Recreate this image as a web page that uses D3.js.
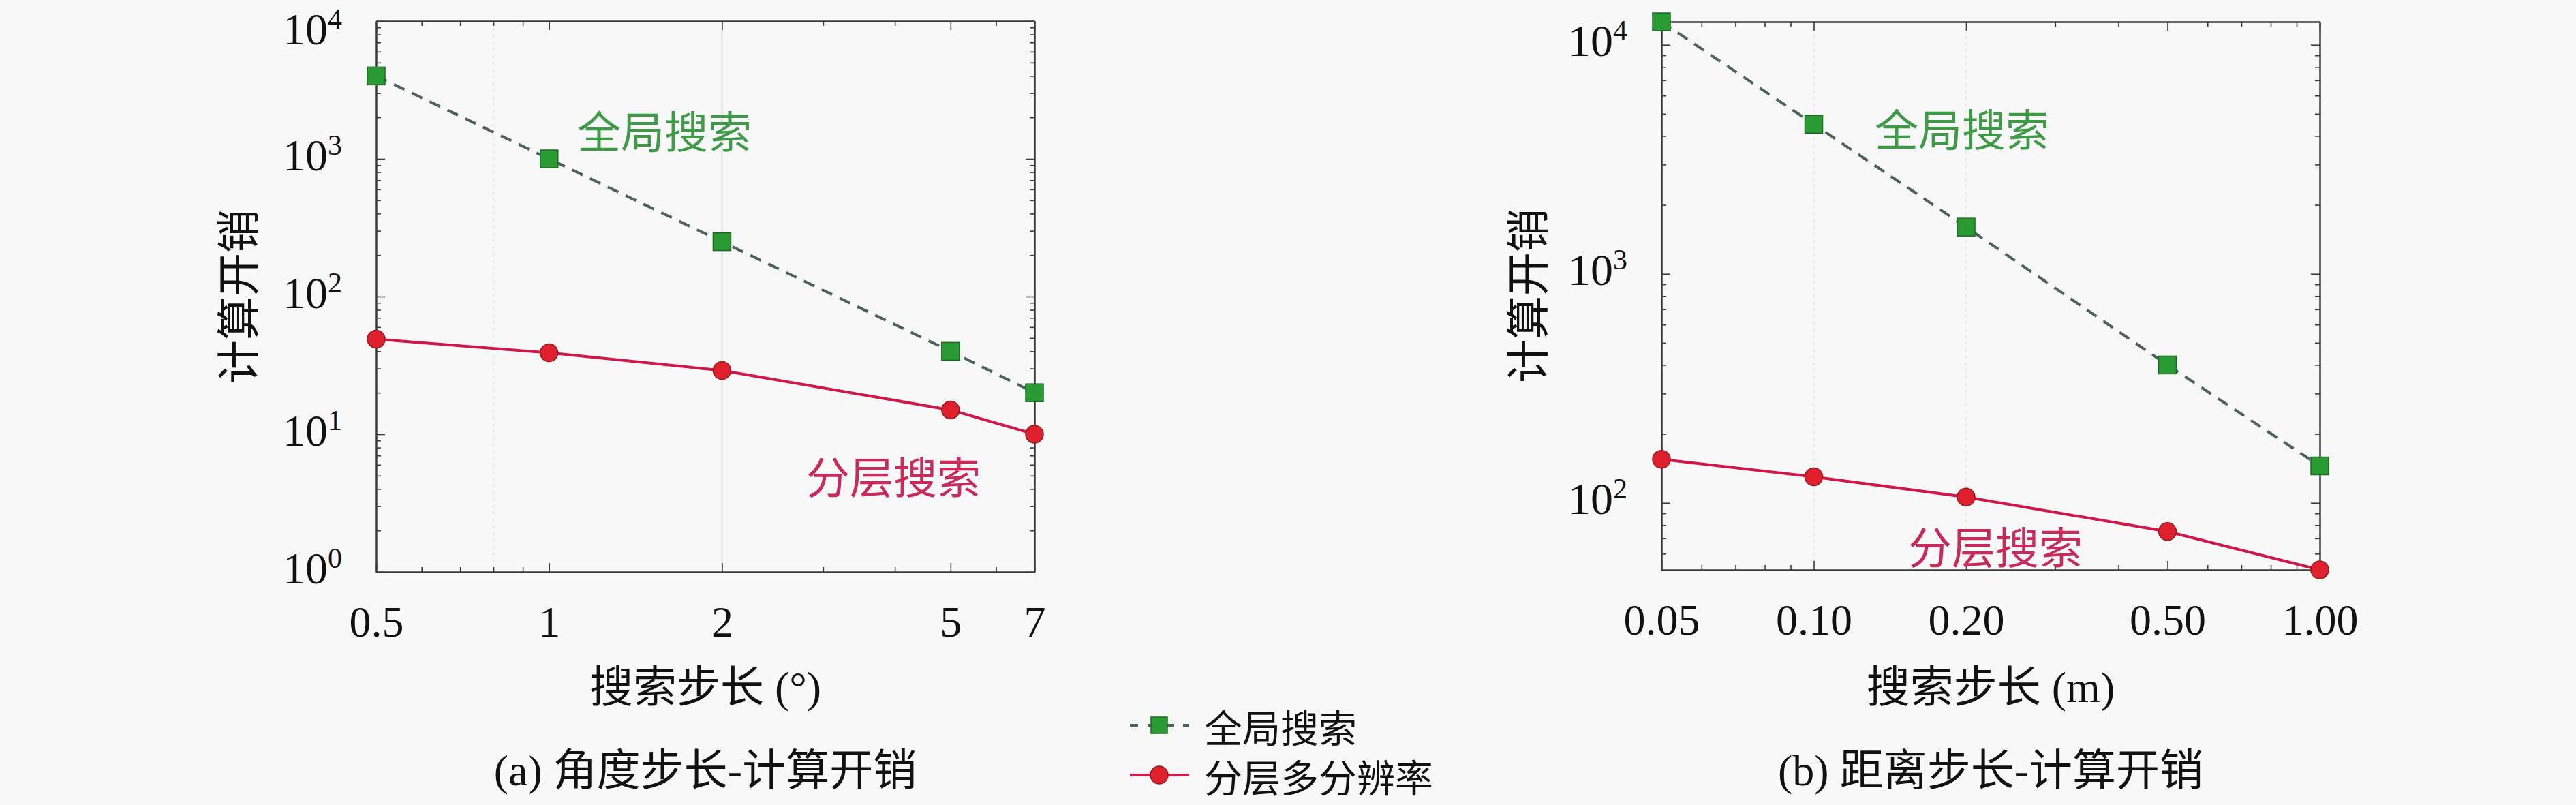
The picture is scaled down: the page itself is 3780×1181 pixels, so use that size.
<!DOCTYPE html>
<html>
<head>
<meta charset="utf-8">
<script src="https://cdn.jsdelivr.net/npm/d3@7"></script>
<style>
  html, body { margin: 0; padding: 0; background: #f8f8f8; }
  svg { display: block; }
</style>
</head>
<body>
<div id="chart"></div>
<script>
// panel (a): angle step vs cost
const angleSteps = [0.5, 1, 2, 5, 7];
const angleGlobal = [4000, 1000, 250, 40, 20];
const angleLayered = [49, 39, 29, 15, 10];
const angleTickLabels = ['0.5', '1', '2', '5', '7'];

// panel (b): distance step vs cost
const distSteps = [0.05, 0.1, 0.2, 0.5, 1.0];
const distGlobal = [12600, 4500, 1600, 400, 145];
const distLayered = [155, 130, 106, 75, 51];
const distTickLabels = ['0.05', '0.10', '0.20', '0.50', '1.00'];

const seriesNames = ['全局搜索', '分层多分辨率'];
const inlineNames = ['全局搜索', '分层搜索'];

const W = 3780, H = 1181;
const serif = '"Liberation Serif", "DejaVu Serif", serif';
const mixed = '"Liberation Serif", "Noto Sans CJK SC", serif';
const cjk = '"Noto Sans CJK SC", sans-serif';

const greenLine = '#4c625c', greenFill = '#2a9b32', greenEdge = '#1c6a22', greenText = '#3f9a48';
const redLine = '#d0174a', redFill = '#e1202e', redEdge = '#951a1e', redText = '#c92a5a';

const svg = d3.select('#chart').append('svg')
  .attr('width', W).attr('height', H)
  .style('background', '#f8f8f8');

function minorTicks(domain) {
  const out = [];
  const lo = Math.floor(Math.log10(domain[0])), hi = Math.ceil(Math.log10(domain[1]));
  for (let e = lo; e <= hi; e++) {
    for (let m = 1; m < 10; m++) {
      const v = +(m * Math.pow(10, e)).toPrecision(6);
      if (v >= domain[0] * 0.9999 && v <= domain[1] * 1.0001) out.push(v);
    }
  }
  return out;
}

function drawPanel(p) {
  const x = d3.scaleLog().domain(p.xDomain).range([p.left, p.right]);
  const y = d3.scaleLog().domain(p.yDomain).range([p.bottom, p.top]);
  const g = svg.append('g');

  // faint vertical guides
  g.selectAll('.grid').data(p.grid).enter().append('line')
    .attr('x1', d => x(d.v)).attr('x2', d => x(d.v))
    .attr('y1', p.top).attr('y2', p.bottom)
    .attr('stroke', d => d.c).attr('stroke-width', 2)
    .attr('stroke-dasharray', d => d.dash);

  const yMajor = minorTicks(p.yDomain).filter(v => Math.abs(Math.log10(v) - Math.round(Math.log10(v))) < 1e-9);
  const yMinor = minorTicks(p.yDomain).filter(v => yMajor.indexOf(v) < 0);
  const xMinor = minorTicks(p.xDomain).filter(v => p.xTicks.indexOf(v) < 0);

  const styleAxis = sel => {
    sel.select('.domain').attr('stroke', '#3a3a3a').attr('stroke-width', 2);
    sel.selectAll('.tick line').attr('stroke', '#3a3a3a').attr('stroke-width', 1.6);
  };

  // minor ticks on all four sides
  [[d3.axisBottom(x), p.bottom], [d3.axisTop(x), p.top]].forEach(([ax, ty]) => {
    g.append('g').attr('transform', `translate(0,${ty})`)
      .call(ax.tickValues(xMinor).tickSize(-7).tickSizeOuter(0).tickFormat(''))
      .call(styleAxis);
  });
  [[d3.axisLeft(y), p.left], [d3.axisRight(y), p.right]].forEach(([ax, tx]) => {
    g.append('g').attr('transform', `translate(${tx},0)`)
      .call(ax.tickValues(yMinor).tickSize(-7).tickSizeOuter(0).tickFormat(''))
      .call(styleAxis);
  });

  // major ticks
  const xb = g.append('g').attr('transform', `translate(0,${p.bottom})`)
    .call(d3.axisBottom(x).tickValues(p.xTicks).tickSize(-13).tickSizeOuter(0).tickPadding(50)
      .tickFormat((d, i) => p.xLabels[i]))
    .call(styleAxis);
  xb.selectAll('.tick text')
    .attr('font-family', serif).attr('font-size', 64).attr('fill', '#111');

  g.append('g').attr('transform', `translate(0,${p.top})`)
    .call(d3.axisTop(x).tickValues(p.xTicks).tickSize(-13).tickSizeOuter(0).tickFormat(''))
    .call(styleAxis);

  const yl = g.append('g').attr('transform', `translate(${p.left},0)`)
    .call(d3.axisLeft(y).tickValues(yMajor).tickSize(-13).tickSizeOuter(0).tickFormat(''))
    .call(styleAxis);
  // labels near the top edge are nudged down so the exponent stays on the page
  const lab = yl.selectAll('.tick').append('text')
    .attr('x', -50).attr('y', d => Math.max(16, 64 - y(d)))
    .attr('text-anchor', 'end')
    .attr('font-family', serif).attr('fill', '#111');
  lab.append('tspan').attr('font-size', 66).text('10');
  lab.append('tspan').attr('font-size', 42).attr('dy', -23)
    .text(d => Math.round(Math.log10(d)));

  g.append('g').attr('transform', `translate(${p.right},0)`)
    .call(d3.axisRight(y).tickValues(yMajor).tickSize(-13).tickSizeOuter(0).tickFormat(''))
    .call(styleAxis);

  // series lines
  const line = d3.line().x(d => x(d[0])).y(d => y(d[1]));
  const gPts = p.xs.map((v, i) => [v, p.global[i]]);
  const lPts = p.xs.map((v, i) => [v, p.layered[i]]);

  g.append('path').datum(gPts).attr('d', line)
    .attr('fill', 'none').attr('stroke', greenLine).attr('stroke-width', 4)
    .attr('stroke-dasharray', '17,12');
  g.append('path').datum(lPts).attr('d', line)
    .attr('fill', 'none').attr('stroke', redLine).attr('stroke-width', 4);

  g.selectAll('.sq').data(gPts).enter().append('rect')
    .attr('x', d => x(d[0]) - 13).attr('y', d => y(d[1]) - 13)
    .attr('width', 26).attr('height', 26)
    .attr('fill', greenFill).attr('stroke', greenEdge).attr('stroke-width', 1.5);
  g.selectAll('.dot').data(lPts).enter().append('circle')
    .attr('cx', d => x(d[0])).attr('cy', d => y(d[1])).attr('r', 13)
    .attr('fill', redFill).attr('stroke', redEdge).attr('stroke-width', 1.5);

  // inline series labels
  g.append('text').attr('x', p.gLab[0]).attr('y', p.gLab[1])
    .attr('text-anchor', 'middle').attr('dominant-baseline', 'central')
    .attr('font-family', cjk).attr('font-size', 64).attr('fill', greenText)
    .text(inlineNames[0]);
  g.append('text').attr('x', p.rLab[0]).attr('y', p.rLab[1])
    .attr('text-anchor', 'middle').attr('dominant-baseline', 'central')
    .attr('font-family', cjk).attr('font-size', 64).attr('fill', redText)
    .text(inlineNames[1]);

  // axis titles and caption
  const cx = (p.left + p.right) / 2, cy = (p.top + p.bottom) / 2;
  g.append('text').attr('transform', `translate(${p.yTitleX},${cy}) rotate(-90)`)
    .attr('text-anchor', 'middle').attr('dominant-baseline', 'central')
    .attr('font-family', cjk).attr('font-size', 64).attr('fill', '#111')
    .text('计算开销');
  g.append('text').attr('x', cx).attr('y', 1008)
    .attr('text-anchor', 'middle').attr('dominant-baseline', 'central')
    .attr('font-family', mixed).attr('font-size', 64).attr('fill', '#111')
    .text(p.xTitle);
  g.append('text').attr('x', cx).attr('y', 1130)
    .attr('text-anchor', 'middle').attr('dominant-baseline', 'central')
    .attr('font-family', mixed).attr('font-size', 64).attr('fill', '#111')
    .text(p.caption);
}

drawPanel({
  left: 552, right: 1518, top: 31, bottom: 839,
  xDomain: [0.5, 7], yDomain: [1, 1e4],
  xs: angleSteps, global: angleGlobal, layered: angleLayered,
  xTicks: angleSteps, xLabels: angleTickLabels,
  grid: [{ v: 0.8, c: '#e2e2e2', dash: '4,6' }, { v: 2, c: '#dedede', dash: null }],
  gLab: [975, 189], rLab: [1311, 696],
  yTitleX: 345,
  xTitle: '搜索步长 (°)', caption: '(a) 角度步长-计算开销'
});

drawPanel({
  left: 2438, right: 3404, top: 32, bottom: 836,
  xDomain: [0.05, 1], yDomain: d3.extent(distGlobal.concat(distLayered)),
  xs: distSteps, global: distGlobal, layered: distLayered,
  xTicks: distSteps, xLabels: distTickLabels,
  grid: [{ v: 0.1, c: '#e6e6e6', dash: '4,6' }, { v: 0.2, c: '#e6e6e6', dash: '4,6' }],
  gLab: [2879, 186], rLab: [2928, 799],
  yTitleX: 2237,
  xTitle: '搜索步长 (m)', caption: '(b) 距离步长-计算开销'
});

// shared legend
const legend = svg.append('g');
const rows = [
  { name: seriesNames[0], y: 1064, stroke: greenLine, dash: '12,14', kind: 'sq' },
  { name: seriesNames[1], y: 1137, stroke: redLine, dash: null, kind: 'dot' }
];
rows.forEach(r => {
  legend.append('line').attr('x1', 1658).attr('x2', 1745).attr('y1', r.y).attr('y2', r.y)
    .attr('stroke', r.stroke).attr('stroke-width', 4).attr('stroke-dasharray', r.dash);
  if (r.kind === 'sq') {
    legend.append('rect').attr('x', 1701 - 12).attr('y', r.y - 12).attr('width', 24).attr('height', 24)
      .attr('fill', greenFill).attr('stroke', greenEdge).attr('stroke-width', 1.5);
  } else {
    legend.append('circle').attr('cx', 1701).attr('cy', r.y).attr('r', 13)
      .attr('fill', redFill).attr('stroke', redEdge).attr('stroke-width', 1.5);
  }
  legend.append('text').attr('x', 1767).attr('y', r.y)
    .attr('dominant-baseline', 'central')
    .attr('font-family', cjk).attr('font-size', 56).attr('fill', '#111')
    .text(r.name);
});
</script>
</body>
</html>
